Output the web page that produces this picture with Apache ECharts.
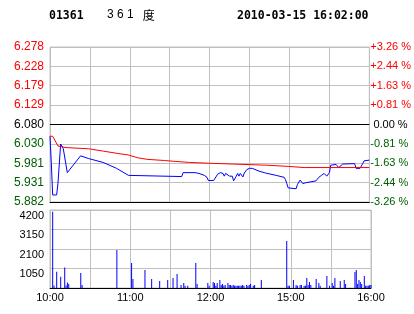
<!DOCTYPE html>
<html><head><meta charset="utf-8">
<script src="https://cdn.jsdelivr.net/npm/echarts@6/dist/echarts.min.js"></script>
<style>html,body{margin:0;padding:0;background:#fff}#c{width:414px;height:314px}</style>
</head><body><div id="c"></div>
<script>
const stockCode = '01361';
const stockNameDigits = '3 6 1';
const stockNameSuffix = '度';
const timestamp = '2010-03-15 16:02:00';
const prevClose = 6.080;
const priceMin = 5.882, priceMax = 6.278, priceStep = 0.0495;
const priceTickLabels = ['5.882','5.931','5.981','6.030','6.080','6.129','6.179','6.228','6.278'];
const pctTickLabels = ['-3.26 %','-2.44 %','-1.63 %','-0.81 %',' 0.00 %','+0.81 %','+1.63 %','+2.44 %','+3.26 %'];
const volMax = 4200, volStep = 1050;
const volTickLabels = ['', '1050', '2100', '3150', '4200'];
const timeTickMinutes = [0, 60, 120, 180, 240];
const timeTickLabels = ['10:00', '11:00', '12:00', '15:00', '16:00'];

// minutes from 10:00 (afternoon session 14:30 continues at 150)
const priceMinutes = [0,1,2,5,6,8,10,13,23,29,40,50,59,60,99,100,109,112,116,118,119,123,126,128,130,131,132,133,135,136,137,138,140,141,142,143,145,146,147,148,150,152,157,162,170,176,177,178,179,185,186,188,190,191,192,193,200,202,204,206,207,208,210,211,212,215,216,217,218,220,221,229,230,233,235,236,240];
const priceValues  = [6.050,5.980,5.900,5.900,5.930,6.030,6.018,5.957,6.000,5.993,5.983,5.968,5.950,5.947,5.947,5.957,5.957,5.955,5.950,5.945,5.937,5.937,5.953,5.957,5.955,5.948,5.955,5.957,5.948,5.946,5.948,5.936,5.948,5.955,5.948,5.955,5.946,5.956,5.955,5.965,5.968,5.968,5.961,5.956,5.950,5.945,5.939,5.929,5.918,5.916,5.927,5.938,5.929,5.927,5.931,5.936,5.936,5.945,5.950,5.955,5.953,5.948,5.957,5.976,5.980,5.978,5.974,5.970,5.974,5.979,5.980,5.980,5.968,5.968,5.980,5.987,5.989];

const avgMinutes = [0,2,6,12,29,40,51,59,66,73,86,93,105,120,137,163,179,191,240];
const avgValues  = [6.050,6.050,6.025,6.021,6.018,6.012,6.006,6.002,5.995,5.991,5.988,5.986,5.983,5.981,5.979,5.976,5.973,5.970,5.970];

const volMinutes = [2,3,5,8,11,12,13,14,23,24,50,61,62,71,76,82,88,92,95,98,100,101,103,109,110,118,119,122,123,124,125,127,128,129,130,131,133,134,135,136,137,138,139,140,141,142,143,144,145,147,148,149,150,152,153,158,177,178,179,182,184,185,187,188,190,191,192,193,194,195,199,201,202,207,209,211,212,213,217,220,221,228,229,230,231,232,233,235,236,237,238,239,240];
const volValues  = [4100,130,880,610,1100,130,290,215,810,160,2050,1350,480,970,480,380,430,540,750,160,270,125,125,1350,215,270,125,325,270,125,270,430,160,215,125,160,270,160,160,125,160,125,120,120,120,120,120,160,125,160,125,160,215,125,160,430,2530,120,120,430,160,125,160,160,120,120,540,160,325,160,485,270,120,650,120,270,120,540,380,430,215,860,970,215,430,325,215,650,120,120,120,160,160];

const zip = (a, b) => a.map((v, i) => [v, b[i]]);
const GRAY = '#c0c0c0', RED = '#ff0000', GREEN = '#006000', BLUE = '#0000ff';
const LABEL_FONT = 'Liberation Sans';
const tickIdx = v => Math.round((Number(v) - priceMin) / priceStep);
const tickColor = v => { const i = tickIdx(v); return i > 4 ? RED : (i === 4 ? '#000' : GREEN); };

const chart = echarts.init(document.getElementById('c'), null, {renderer: 'canvas'});
chart.setOption({
  animation: false,
  backgroundColor: '#fff',
  title: [
    {text: stockCode, left: 49, top: 10, padding: 0,
     textStyle: {fontFamily: 'DejaVu Sans Mono', fontWeight: 'bold', fontSize: 11.5, color: '#000'}},
    {text: '{d|' + stockNameDigits + '}{g|' + stockNameSuffix + '}', left: 107, top: 9, padding: 0,
     textStyle: {fontWeight: 'normal', fontSize: 12, color: '#000',
       rich: {
         d: {fontFamily: 'Liberation Sans', fontSize: 12, color: '#000'},
         g: {fontFamily: 'Noto Sans CJK SC', fontSize: 12, color: '#000', padding: [0, 0, 0, 9]}
       }}},
    {text: timestamp, left: 237, top: 10, padding: 0,
     textStyle: {fontFamily: 'DejaVu Sans Mono', fontWeight: 'bold', fontSize: 11.5, color: '#000'}}
  ],
  grid: [
    {left: 50, top: 47, width: 321, height: 155, show: true, borderColor: GRAY, borderWidth: 1, backgroundColor: 'transparent'},
    {left: 50, top: 210, width: 321, height: 78, show: true, borderColor: GRAY, borderWidth: 1, backgroundColor: 'transparent'}
  ],
  xAxis: [
    {type: 'value', gridIndex: 0, min: 0, max: 240, interval: 30,
     axisLine: {show: true, onZero: false, lineStyle: {color: '#000', width: 1}},
     axisTick: {show: false}, axisLabel: {show: false},
     splitLine: {show: true, lineStyle: {color: GRAY, width: 1}}},
    {type: 'value', gridIndex: 1, min: 0, max: 240, interval: 30,
     axisLine: {show: true, onZero: false, lineStyle: {color: '#000', width: 1}},
     axisTick: {show: false},
     axisLabel: {show: true, margin: 4, fontSize: 11, fontFamily: LABEL_FONT, color: '#000',
       formatter: v => { const i = timeTickMinutes.indexOf(Number(v)); return i >= 0 ? timeTickLabels[i] : ''; }},
     splitLine: {show: true, lineStyle: {color: GRAY, width: 1}}}
  ],
  yAxis: [
    {type: 'value', gridIndex: 0, position: 'left', min: priceMin, max: priceMax, interval: priceStep,
     axisLine: {show: false}, axisTick: {show: false},
     axisLabel: {margin: 6, fontSize: 12, fontFamily: LABEL_FONT,
       formatter: v => priceTickLabels[tickIdx(v)], color: tickColor},
     splitLine: {show: true, lineStyle: {color: GRAY, width: 1}}},
    {type: 'value', gridIndex: 0, position: 'right', min: priceMin, max: priceMax, interval: priceStep,
     axisLine: {show: false}, axisTick: {show: false},
     axisLabel: {margin: 1, fontSize: 11, fontFamily: LABEL_FONT,
       formatter: v => pctTickLabels[tickIdx(v)], color: tickColor},
     splitLine: {show: false}},
    {type: 'value', gridIndex: 1, min: 0, max: volMax, interval: volStep,
     axisLine: {show: false}, axisTick: {show: false},
     axisLabel: {margin: 6, fontSize: 11, fontFamily: LABEL_FONT, color: '#000', verticalAlign: 'top',
       formatter: v => volTickLabels[Math.round(Number(v) / volStep)]},
     splitLine: {show: true, lineStyle: {color: GRAY, width: 1}}}
  ],
  series: [
    {name: 'price', type: 'line', xAxisIndex: 0, yAxisIndex: 0, data: zip(priceMinutes, priceValues),
     showSymbol: false, symbol: 'none', lineStyle: {color: BLUE, width: 1}, itemStyle: {color: BLUE},
     markLine: {silent: true, symbol: ['none', 'none'], label: {show: false},
       lineStyle: {color: '#000', width: 1, type: 'solid'}, data: [{yAxis: prevClose}]}},
    {name: 'average', type: 'line', xAxisIndex: 0, yAxisIndex: 0, data: zip(avgMinutes, avgValues),
     showSymbol: false, symbol: 'none', lineStyle: {color: RED, width: 1}, itemStyle: {color: RED}},
    {name: 'volume', type: 'bar', xAxisIndex: 1, yAxisIndex: 2, data: zip(volMinutes, volValues),
     barWidth: 1, itemStyle: {color: BLUE}}
  ]
});
</script></body></html>
